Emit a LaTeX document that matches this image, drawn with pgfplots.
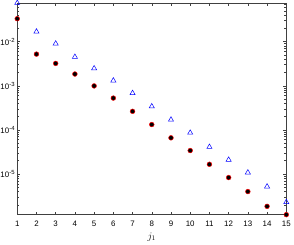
\documentclass[border=0pt]{standalone}
\usepackage{pgfplots}
\pgfplotsset{compat=1.18}
\usepackage{fontspec}
\setmainfont{Liberation Sans}
\definecolor{axc}{gray}{0.25}
\definecolor{mred}{rgb}{1,0,0}
\definecolor{mblue}{rgb}{0,0,1}
\begin{document}
\begin{tikzpicture}
\begin{axis}[
  scale only axis, width=272pt, height=214pt,
  ymode=log, xmin=1, xmax=15, ymin=1.2e-6, ymax=0.075,
  xtick={1,...,15},
  ytick={1e-5,1e-4,1e-3,1e-2},
  minor ytick={2e-6,3e-6,4e-6,5e-6,6e-6,7e-6,8e-6,9e-6,
    2e-5,3e-5,4e-5,5e-5,6e-5,7e-5,8e-5,9e-5,
    2e-4,3e-4,4e-4,5e-4,6e-4,7e-4,8e-4,9e-4,
    2e-3,3e-3,4e-3,5e-3,6e-3,7e-3,8e-3,9e-3,
    2e-2,3e-2,4e-2,5e-2,6e-2,7e-2},
  yticklabels={10\textsuperscript{-5},10\textsuperscript{-4},10\textsuperscript{-3},10\textsuperscript{-2}},
  tick align=inside,
  major tick length=3pt, minor tick length=2pt,
  axis line style={axc, line width=0.5pt},
  every tick/.style={axc, line width=0.45pt},
  tick label style={font=\fontsize{8}{9}\selectfont},
  yticklabel style={inner sep=0.5pt, xshift=-1.5pt},
  xticklabel style={yshift=-3pt},
  /pgf/number format/assume math mode=true,
  xlabel={$j_1$}, xlabel style={font=\fontsize{10}{11}\selectfont, yshift=1pt},
  clip=false,
]
\addplot[only marks, mark=*, mark size=2.4pt, draw=mred, line width=0.5pt,
  mark options={draw=mred, fill=none, solid}] coordinates {
(1,0.033) (2,0.0052) (3,0.0032) (4,0.00184) (5,0.00099) (6,0.000525) (7,0.000263) (8,0.000132)
(9,6.6e-5) (10,3.4e-5) (11,1.66e-5) (12,8.3e-6) (13,4.0e-6) (14,1.85e-6) (15,1.2e-6)};
\addplot[only marks, mark=triangle, mark size=3pt, draw=mblue, line width=0.5pt,
  mark options={draw=mblue, fill=none, solid}] coordinates {
(1,0.075) (2,0.0168) (3,0.0090) (4,0.0045) (5,0.00247) (6,0.00131) (7,0.00068) (8,0.00034)
(9,0.00017) (10,8.6e-5) (11,4.1e-5) (12,2.1e-5) (13,1.08e-5) (14,5.2e-6) (15,2.3e-6)};
\end{axis}
\end{tikzpicture}
\end{document}
